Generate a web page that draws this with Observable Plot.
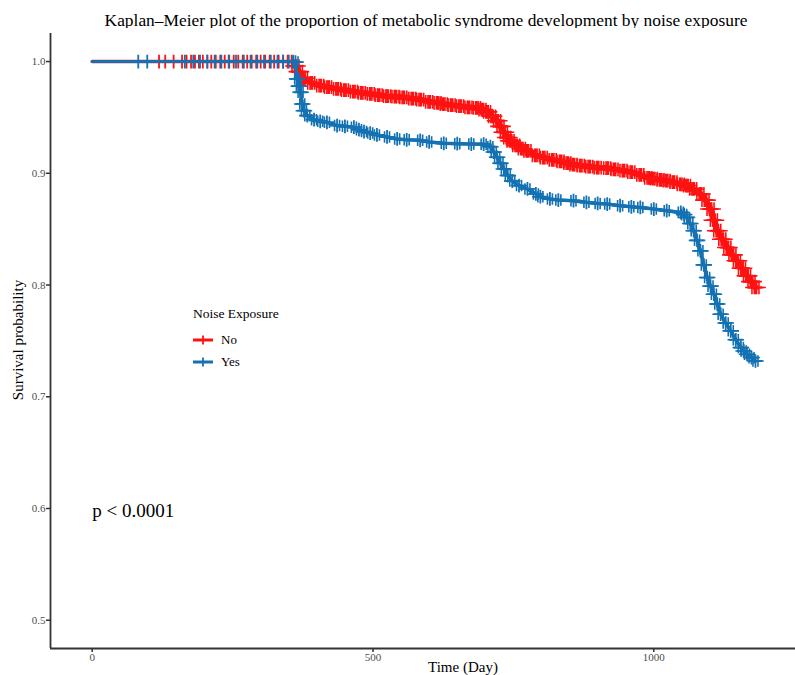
<!DOCTYPE html>
<html><head><meta charset="utf-8">
<script src="https://cdn.jsdelivr.net/npm/d3@7"></script>
<script src="https://cdn.jsdelivr.net/npm/@observablehq/plot@0.6"></script>
<style>
body{margin:0;background:#fff;font-family:"Liberation Serif","Times New Roman",serif;}
#wrap{position:relative;width:795px;height:675px;overflow:hidden;background:#fff}
#title{position:absolute;left:0;width:852px;top:10px;text-align:center;font-size:17.4px;line-height:20px;color:#000;white-space:nowrap}
#chart{position:absolute;left:0;top:28px}
#ylab{position:absolute;left:18px;top:340px;transform:translate(-50%,-50%) rotate(-90deg);font-size:15px;white-space:nowrap;color:#000}
#xlab{position:absolute;left:463px;top:667px;transform:translate(-50%,-50%);font-size:15px;white-space:nowrap;color:#000}
#legend{position:absolute;left:193px;top:304px;color:#000}
#legend .lt{font-size:13.5px;line-height:20px;white-space:nowrap}
#legend .row{display:flex;align-items:center;height:22px;font-size:13px}
#legend .row.first{margin-top:5px}
#legend svg{margin-right:8px;margin-left:0}
</style></head><body>
<div id="wrap">
<div id="title">Kaplan–Meier plot of the proportion of metabolic syndrome development by noise exposure</div>
<div id="chart"></div>
<div id="ylab">Survival probability</div>
<div id="xlab">Time (Day)</div>
<div id="legend"></div>
</div>
<script>
// ---- data ----
const groups = ["No", "Yes"];
const groupColors = ["#ff1212", "#1472b3"];

// Noise exposure: No (time in days, survival probability)
const noTime = [0,119,130,145,160,168,176,183,190,197,205,212,220,228,236,244,252,260,268,276,284,292,300,308,316,324,332,340,348,355,
  362,368,377,390,406,420,436,450,466,480,496,510,525,540,554,570,584,600,615,626,640,655,670,685,695,703,712,721,727,733,739,745,755,765,775,790,804,820,834,846,857,870,885,900,917,930,946,960,976,990,1000,1012,1023,1035,1048,1059,1070,1083,1092,1101,1107,1113,1122,1131,1140,1148,1157,1166,1174,1181];
const noSurv = [1,1,1,1,1,1,1,1,1,1,1,1,1,1,1,1,1,1,1,1,1,1,1,1,1,1,1,1,1,1,
  0.996,0.991,0.985,0.981,0.9785,0.977,0.9755,0.9745,0.973,0.972,0.971,0.970,0.969,0.9685,0.968,0.9668,0.966,0.964,0.963,0.962,0.961,0.960,0.959,0.9585,0.957,0.955,0.951,0.947,0.942,0.9367,0.932,0.929,0.925,0.922,0.920,0.916,0.914,0.912,0.9107,0.909,0.9077,0.9068,0.906,0.905,0.9047,0.9035,0.9023,0.901,0.8985,0.896,0.8952,0.894,0.8934,0.892,0.890,0.889,0.886,0.8815,0.876,0.868,0.858,0.8486,0.841,0.8336,0.827,0.8217,0.815,0.8082,0.803,0.7978];

// Noise exposure: Yes
const yesTime = [0,82,98,165,180,192,205,218,230,243,256,270,282,294,306,318,330,340,350,358,
  362,365,368,371,374,377,383,395,406,418,436,450,466,475,484,495,507,525,543,560,584,600,626,650,675,697,709,715,721,727,733,740,748,760,775,790,798,815,830,857,880,900,917,940,960,976,1000,1023,1048,1054,1059,1065,1071,1077,1083,1089,1095,1101,1107,1113,1119,1128,1137,1146,1155,1160,1166,1174,1181];
const yesSurv = [1,1,1,1,1,1,1,1,1,1,1,1,1,1,1,1,1,1,1,1,
  0.9995,0.9845,0.978,0.9725,0.962,0.956,0.9516,0.948,0.9465,0.9456,0.9427,0.942,0.9412,0.939,0.9373,0.936,0.9343,0.9325,0.9307,0.930,0.9295,0.928,0.9268,0.9265,0.9262,0.926,0.9238,0.919,0.9143,0.909,0.9039,0.898,0.893,0.889,0.886,0.8815,0.879,0.877,0.876,0.8755,0.874,0.873,0.8725,0.871,0.870,0.8694,0.868,0.8665,0.865,0.863,0.8605,0.855,0.8486,0.840,0.8306,0.818,0.8067,0.799,0.7918,0.783,0.7739,0.766,0.759,0.751,0.744,0.741,0.738,0.735,0.732];

const xTicks = [0, 500, 1000];
const yTicks = [0.5, 0.6, 0.7, 0.8, 0.9, 1.0];
const xDomain = [-74.25, 1252.3];
const yDomain = [0.4747, 1.0251];
const pvalNotes = [{t: 0, s: 0.598, label: "p < 0.0001"}];

// ---- build ----
const noData = noTime.map((t, i) => ({t, s: noSurv[i]}));
const yesData = yesTime.map((t, i) => ({t, s: yesSurv[i]}));
const series = [noData, yesData];
// visual density of the censor-mark band (style only)
const bandOffsets = [[-3.5, -1.2, 1.2, 3.5], [-2.5, 2.5]];
const bandWidth = [3.5, 3];
const fallingWidth = [6, 3.5];

const curveMarks = [];
series.forEach((d, k) => {
  const c = groupColors[k];
  const falling = d.filter(p => p.s < 1);
  curveMarks.push(Plot.line(d, {x: "t", y: "s", stroke: c, strokeWidth: bandWidth[k]}));
  curveMarks.push(Plot.line(falling, {x: "t", y: "s", stroke: c, strokeWidth: fallingWidth[k], strokeLinejoin: "round"}));
  curveMarks.push(Plot.dot(d.slice(1), {x: "t", y: "s", symbol: "plus", r: 4.5, stroke: c, strokeWidth: 1.8}));
  bandOffsets[k].forEach(dx => {
    curveMarks.push(Plot.dot(falling, {x: "t", y: "s", dx, symbol: "plus", r: k === 0 ? 4.5 : 3.8, stroke: c, strokeWidth: 1.6}));
  });
});

const chart = Plot.plot({
  width: 795,
  height: 647,
  marginTop: 5,
  marginLeft: 50,
  marginRight: 0,
  marginBottom: 27,
  style: {fontFamily: "'Liberation Serif', 'Times New Roman', serif", background: "#fff"},
  x: {domain: xDomain, label: null},
  y: {domain: yDomain, label: null},
  marks: [
    Plot.axisX({ticks: xTicks, tickSize: 4, tickPadding: 1, stroke: "#333", strokeWidth: 1.5, fill: "#4d4d4d", fontSize: 11, tickFormat: d3.format("d"), label: null}),
    Plot.axisY({ticks: yTicks, tickSize: 4, tickPadding: 1, stroke: "#333", strokeWidth: 1.5, fill: "#4d4d4d", fontSize: 11, tickFormat: d3.format(".1f"), label: null}),
    Plot.ruleX([xDomain[0]], {stroke: "#333", strokeWidth: 1.8}),
    Plot.ruleY([yDomain[0]], {stroke: "#333", strokeWidth: 1.8}),
    ...curveMarks,
    Plot.text(pvalNotes, {x: "t", y: "s", text: "label", textAnchor: "start", fontSize: 19, fill: "#000"})
  ]
});
document.getElementById("chart").appendChild(chart);

// legend
const leg = document.getElementById("legend");
let html = '<div class="lt">Noise Exposure</div>';
groups.forEach((g, k) => {
  const c = groupColors[k];
  html += `<div class="row${k === 0 ? " first" : ""}"><svg width="20" height="12" viewBox="0 0 20 12"><line x1="0" y1="6" x2="20" y2="6" stroke="${c}" stroke-width="3"/><line x1="10" y1="1.5" x2="10" y2="10.5" stroke="${c}" stroke-width="1.8"/><line x1="5.5" y1="6" x2="14.5" y2="6" stroke="${c}" stroke-width="1.8"/></svg><span>${g}</span></div>`;
});
leg.innerHTML = html;
</script>
</body></html>
